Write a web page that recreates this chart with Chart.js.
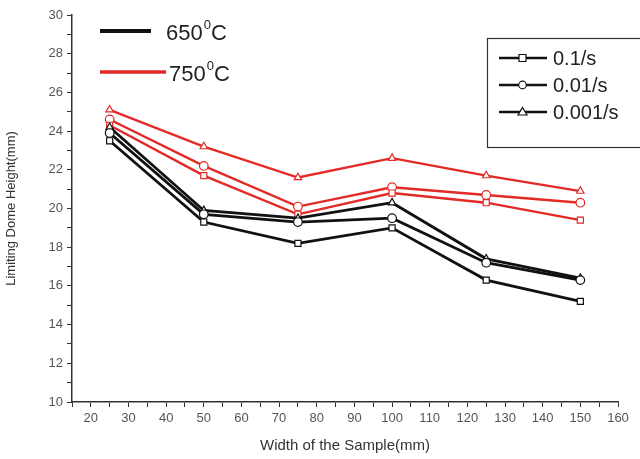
<!DOCTYPE html>
<html lang="en">
<head>
<meta charset="UTF-8" />
<title>Limiting Dome Height vs Width</title>
<style>
  body { margin: 0; padding: 0; background: #fff; }
  .wrap { width: 640px; height: 459px; position: relative; }
</style>
</head>
<body>
  <div class="wrap"><canvas id="ldh" width="640" height="459"></canvas></div>

  <script src="https://cdn.jsdelivr.net/npm/chart.js"></script>
  <script>
    // sample widths (mm)
    const widths = [25, 50, 75, 100, 125, 150];

    // 650 C
    const black01 = [23.5, 19.3, 18.2, 19.0, 16.3, 15.2];
    const black001 = [23.9, 19.7, 19.3, 19.5, 17.2, 16.3];
    const black0001 = [24.2, 19.9, 19.5, 20.3, 17.4, 16.4];

    // 750 C
    const red01 = [24.3, 21.7, 19.7, 20.8, 20.3, 19.4];
    const red001 = [24.6, 22.2, 20.1, 21.1, 20.7, 20.3];
    const red0001 = [25.1, 23.2, 21.6, 22.6, 21.7, 20.9];

    const rateLabels = ['0.1/s', '0.01/s', '0.001/s'];
    const markers = ['rect', 'circle', 'triangle'];

    const BLACK = '#111111';
    const RED = '#e22a26';

    function series(vals, color, marker, w) {
      return {
        data: vals.map((v, i) => ({ x: widths[i], y: v })),
        borderColor: color,
        borderWidth: w,
        pointStyle: marker,
        pointRadius: 4.3,
        pointBackgroundColor: '#fff',
        pointBorderColor: color,
        pointBorderWidth: 1.2,
        tension: 0
      };
    }

    // legends drawn on top, the way the figure has them
    const legendPlugin = {
      id: 'figLegend',
      afterDraw(chart) {
        const c = chart.ctx;
        c.save();
        // temperature legend
        c.lineWidth = 4;
        c.strokeStyle = BLACK;
        c.beginPath(); c.moveTo(100, 31); c.lineTo(151, 31); c.stroke();
        c.strokeStyle = RED;
        c.lineWidth = 3.5;
        c.beginPath(); c.moveTo(100, 72); c.lineTo(166, 72); c.stroke();

        c.fillStyle = '#222';
        c.textBaseline = 'alphabetic';
        const temp = (t, x, y) => {
          c.font = '22px "Liberation Sans", Arial, sans-serif';
          c.fillText(t, x, y);
          let w = c.measureText(t).width;
          c.font = '13px "Liberation Sans", Arial, sans-serif';
          c.fillText('0', x + w + 1, y - 11);
          w += c.measureText('0').width;
          c.font = '22px "Liberation Sans", Arial, sans-serif';
          c.fillText('C', x + w + 1, y);
        };
        temp('650', 166, 40);
        temp('750', 169, 81);

        // strain rate legend box
        c.strokeStyle = '#333';
        c.lineWidth = 1.2;
        c.strokeRect(487.5, 38.5, 160, 109);
        c.font = '20px "Liberation Sans", Arial, sans-serif';
        const ys = [58, 85, 112];
        ys.forEach((y, i) => {
          c.strokeStyle = BLACK;
          c.lineWidth = 2.5;
          c.beginPath(); c.moveTo(499, y); c.lineTo(547, y); c.stroke();
          c.fillStyle = '#fff';
          c.lineWidth = 1.2;
          c.beginPath();
          if (markers[i] === 'rect') {
            c.rect(519, y - 3.5, 7, 7);
          } else if (markers[i] === 'circle') {
            c.arc(522.5, y, 3.8, 0, Math.PI * 2);
          } else {
            c.moveTo(522.5, y - 4.5); c.lineTo(527, y + 3); c.lineTo(518, y + 3); c.closePath();
          }
          c.fill(); c.stroke();
          c.fillStyle = '#222';
          c.textBaseline = 'middle';
          c.fillText(rateLabels[i], 553, y + 1);
        });
        c.restore();
      }
    };

    const tickFont = { family: '"Liberation Sans", Arial, sans-serif', size: 13 };

    new Chart(document.getElementById('ldh'), {
      type: 'line',
      data: {
        datasets: [
          series(black01, BLACK, 'rect', 2.8),
          series(black001, BLACK, 'circle', 2.8),
          series(black0001, BLACK, 'triangle', 2.8),
          series(red01, RED, 'rect', 2.4),
          series(red001, RED, 'circle', 2.4),
          series(red0001, RED, 'triangle', 2.4)
        ]
      },
      options: {
        responsive: false,
        animation: false,
        layout: { padding: { top: 15, right: 22, left: 0, bottom: 0 } },
        plugins: { legend: { display: false }, tooltip: { enabled: false } },
        scales: {
          x: {
            type: 'linear',
            min: 15, max: 160,
            border: { color: '#333', width: 1.5 },
            grid: { drawOnChartArea: false, drawTicks: true, tickLength: 5, color: '#333' },
            ticks: {
              stepSize: 5, autoSkip: false, maxRotation: 0, color: '#555', font: tickFont, padding: 4,
              callback: v => (v % 10 === 0 ? v : '')
            },
            title: {
              display: true, text: 'Width of the Sample(mm)', color: '#333',
              font: { family: '"Liberation Sans", Arial, sans-serif', size: 15 }, padding: { top: 2 }
            },
            afterFit: s => { s.height = 57; }
          },
          y: {
            min: 10, max: 30,
            border: { color: '#333', width: 1.5 },
            grid: { drawOnChartArea: false, drawTicks: true, tickLength: 5, color: '#333' },
            ticks: {
              stepSize: 1, autoSkip: false, color: '#555', font: tickFont, padding: 4,
              callback: v => (v % 2 === 0 ? v : '')
            },
            title: {
              display: true, text: 'Limiting Dome Height(mm)', color: '#333',
              font: { family: '"Liberation Sans", Arial, sans-serif', size: 13 }, padding: { bottom: 2 }
            },
            afterFit: s => { s.width = 72; }
          }
        }
      },
      plugins: [legendPlugin]
    });
  </script>
</body>
</html>
